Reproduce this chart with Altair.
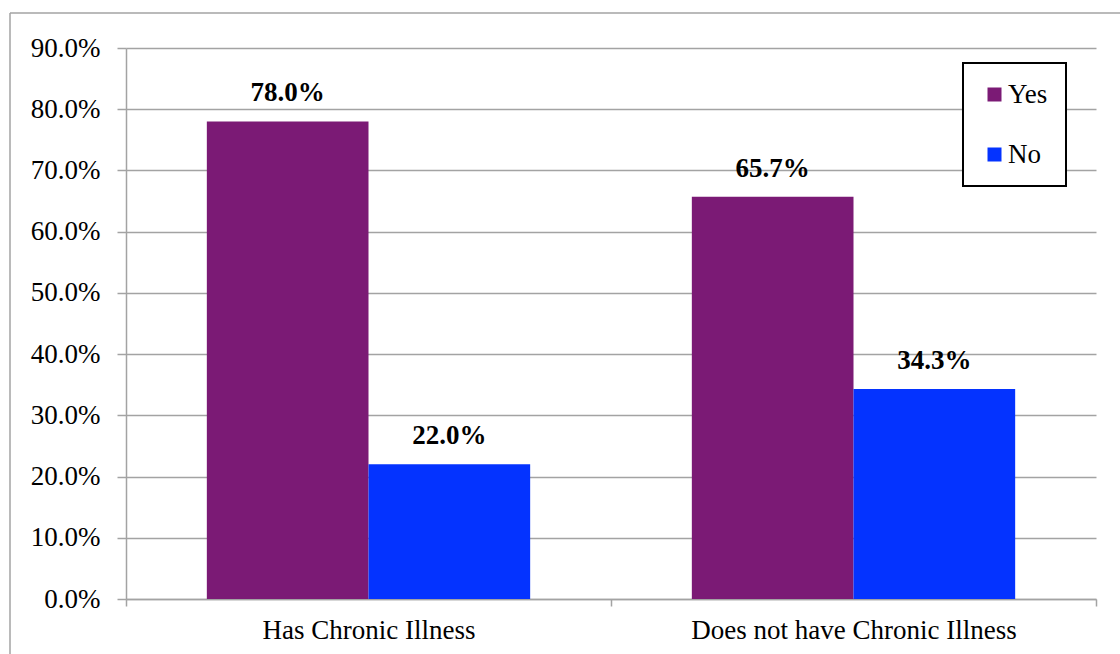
import altair as alt
import pandas as pd

categories = ["Has Chronic Illness", "Does not have Chronic Illness"]
responses = ["Yes", "No"]
yes_values = [0.780, 0.657]
no_values = [0.220, 0.343]
y_ticks = [0.0, 0.1, 0.2, 0.3, 0.4, 0.5, 0.6, 0.7, 0.8, 0.9]
colors = ["#7B1A75", "#0433FF"]

rows = []
for c, yv, nv in zip(categories, yes_values, no_values):
    rows.append({"category": c, "response": "Yes", "value": yv})
    rows.append({"category": c, "response": "No", "value": nv})
df = pd.DataFrame(rows)

FONT = "Liberation Serif"
GRAY = "#A3A3A3"

base = alt.Chart(df).encode(
    x=alt.X(
        "category:N",
        sort=categories,
        scale=alt.Scale(paddingInner=0, paddingOuter=0),
        axis=alt.Axis(
            title=None, labelAngle=0, tickBand="extent", tickSize=7,
            tickColor=GRAY, domainColor=GRAY, tickWidth=1.5, domainWidth=1.5,
            labelFont=FONT, labelFontSize=27, labelColor="black",
            labelPadding=11, grid=False, labelLimit=0,
        ),
    ),
    xOffset=alt.XOffset(
        "response:N", sort=responses,
        scale=alt.Scale(paddingInner=0, paddingOuter=0.5),
    ),
    y=alt.Y(
        "value:Q",
        scale=alt.Scale(domain=[0, 0.9], nice=False),
        axis=alt.Axis(
            title=None, values=y_ticks, format=".1%", tickSize=9,
            tickColor=GRAY, domainColor=GRAY, gridColor=GRAY,
            tickWidth=1.5, domainWidth=1.5, gridWidth=1.5,
            labelFont=FONT, labelFontSize=27, labelColor="black",
            labelPadding=17,
        ),
    ),
)

bars = base.mark_bar().encode(
    color=alt.Color(
        "response:N", sort=responses,
        scale=alt.Scale(domain=responses, range=colors),
        legend=alt.Legend(
            title=None, orient="none", legendX=837, legendY=15,
            strokeColor="black", padding=18,
            symbolType="square", symbolSize=196, symbolStrokeWidth=0,
            labelFont=FONT, labelFontSize=27, labelColor="black",
            labelOffset=0, rowPadding=32, fillColor="white",
        ),
    )
)

labels = base.mark_text(
    dy=-20, baseline="alphabetic", fontWeight="bold", fontSize=27,
    font=FONT, color="black",
).encode(text=alt.Text("value:Q", format=".1%"))

frame_df = pd.DataFrame({"k": [0]})
top_border = alt.Chart(frame_df).mark_rule(color=GRAY, strokeWidth=1.5).encode(
    x=alt.value(-116), x2=alt.value(1100), y=alt.value(-35)
)
left_border = alt.Chart(frame_df).mark_rule(color=GRAY, strokeWidth=1.5).encode(
    x=alt.value(-116), y=alt.value(-35), y2=alt.value(700)
)

chart = alt.layer(bars, labels, top_border, left_border).properties(
    width=970,
    height=551,
    autosize=alt.AutoSizeParams(type="none"),
    padding={"left": 126, "top": 48, "right": 24, "bottom": 55},
    background="white",
).configure_view(stroke=None).configure_legend(strokeWidth=2)

chart.save("out.html", embed_options={"renderer": "svg", "actions": False})
